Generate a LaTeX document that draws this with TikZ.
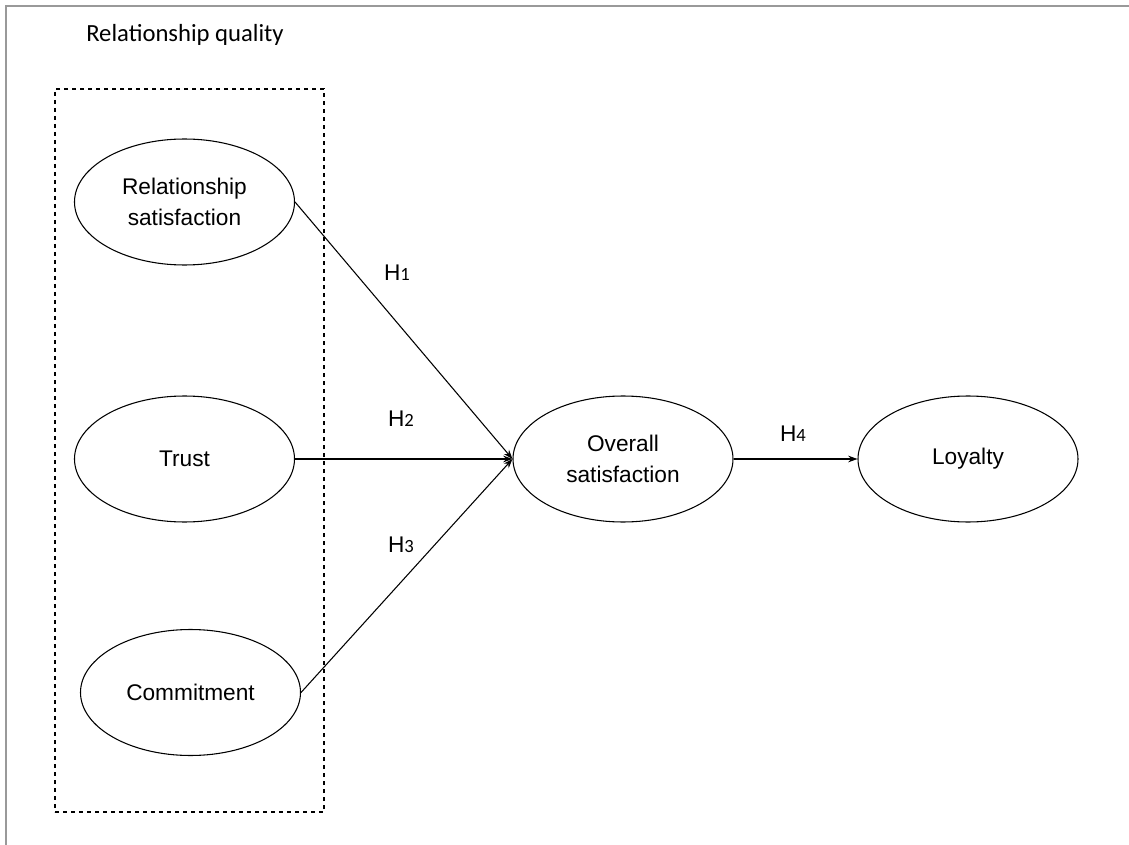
\documentclass[tikz,border=0pt]{standalone}
\usepackage{fontspec}
\setmainfont{Liberation Sans}
\newfontfamily\calib{Carlito}
\usetikzlibrary{shapes.geometric,arrows.meta}
\begin{document}
\begin{tikzpicture}[x=0.75pt,y=-0.75pt,
  construct/.style={ellipse,draw,line width=0.8pt,minimum width=165pt,minimum height=94.5pt,inner sep=0pt,align=center,font=\fontsize{17}{23}\selectfont},
  hyp/.style={font=\fontsize{17}{19}\selectfont,inner sep=0pt},
  link/.style={line width=0.8pt,-{Stealth[length=7pt,width=5pt]}}
]
\useasboundingbox (0,0) rectangle (1129,845);
\draw[gray!80,line width=1.5pt] (1129,6) -- (6,6) -- (6,845);
\node[font=\calib\fontsize{18.5}{22}\selectfont,inner sep=0pt] (title) at (185,35) {Relationship quality};
\node[draw,dashed,line width=0.8pt,minimum width=201.75pt,minimum height=542.25pt,inner sep=0pt] (group) at (189.5,450.5) {};
\node[construct] (rs) at (184.5,202) {Relationship\\satisfaction};
\node[construct] (tr) at (184.5,459) {Trust};
\node[construct] (cm) at (190.5,692.5) {Commitment};
\node[construct] (os) at (623,459) {Overall\\satisfaction};
\node[construct] (ly) at (968,459) {Loyalty};
\draw[link] (rs.east) -- (os.west);
\draw[link] (tr.east) -- (os.west);
\draw[link] (cm.east) -- (os.west);
\draw[link] (os.east) -- (ly.west);
\node[hyp] (h1) at (397,273) {H{\calib\fontsize{14}{15}\selectfont 1}};
\node[hyp] (h2) at (401,419) {H{\calib\fontsize{14}{15}\selectfont 2}};
\node[hyp] (h3) at (401,545) {H{\calib\fontsize{14}{15}\selectfont 3}};
\node[hyp] (h4) at (793,434) {H{\calib\fontsize{14}{15}\selectfont 4}};
\end{tikzpicture}
\end{document}
